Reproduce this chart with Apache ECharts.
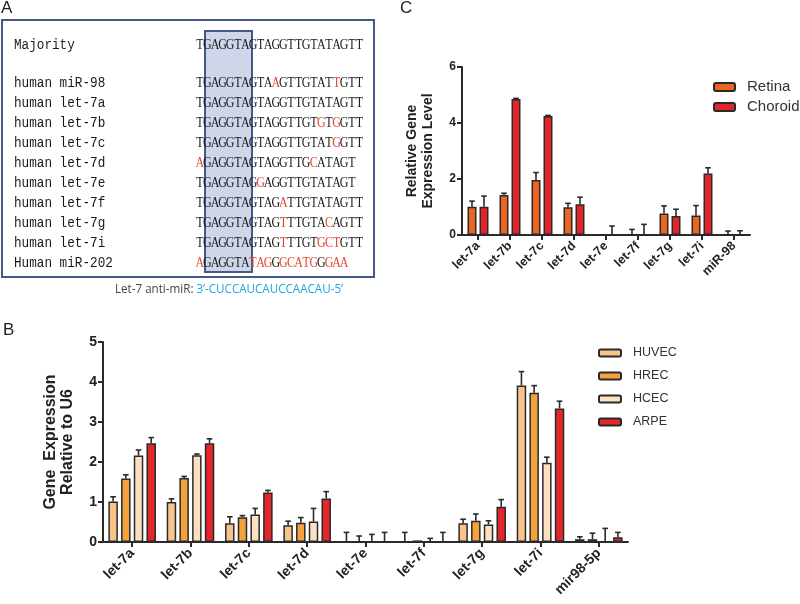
<!DOCTYPE html>
<html><head><meta charset="utf-8">
<script src="https://cdn.jsdelivr.net/npm/echarts@6/dist/echarts.min.js"></script>
<style>html,body{margin:0;padding:0;background:#fff}#c{width:800px;height:604px}</style>
</head><body><div id="c"></div>
<script>
// ---------- Panel A data ----------
const seqNames = ['Majority','human miR-98','human let-7a','human let-7b','human let-7c','human let-7d','human let-7e','human let-7f','human let-7g','human let-7i','Human miR-202'];
const seqs = ['TGAGGTAGTAGGTTGTATAGTT','TGAGGTAGTAAGTTGTATTGTT','TGAGGTAGTAGGTTGTATAGTT','TGAGGTAGTAGGTTGTGTGGTT','TGAGGTAGTAGGTTGTATGGTT','AGAGGTAGTAGGTTGCATAGT','TGAGGTAGGAGGTTGTATAGT','TGAGGTAGTAGATTGTATAGTT','TGAGGTAGTAGTTTGTACAGTT','TGAGGTAGTAGTTTGTGCTGTT','AGAGGTATAGGGCATGGGAA'];
const seqRed = [[],[10,18],[],[16,18],[18],[0,15],[8],[11],[11,17],[11,16,17,18],[0,7,8,9,11,12,13,14,15,17,18,19]];
const antiLabel = 'Let-7 anti-miR: ';
const antiSeq = '3\u2019-CUCCAUCAUCCAACAU-5\u2019';

// ---------- Panel B data ----------
const catsB = ['let-7a','let-7b','let-7c','let-7d','let-7e','let-7f','let-7g','let-7i','mir98-5p'];
const seriesB = ['HUVEC','HREC','HCEC','ARPE'];
const huvec    = [1.01,1.00,0.47,0.42,0.00,0.00,0.47,3.91,0.07];
const huvecErr = [0.12,0.08,0.16,0.10,0.24,0.24,0.10,0.35,0.06];
const hrec     = [1.59,1.60,0.62,0.48,0.00,0.04,0.53,3.73,0.07];
const hrecErr  = [0.09,0.04,0.04,0.13,0.15,0.00,0.17,0.18,0.15];
const hcec     = [2.16,2.17,0.69,0.51,0.00,0.01,0.44,1.98,0.01];
const hcecErr  = [0.14,0.03,0.15,0.33,0.19,0.08,0.09,0.14,0.33];
const arpe     = [2.47,2.47,1.24,1.09,0.01,0.00,0.88,3.34,0.12];
const arpeErr  = [0.14,0.11,0.05,0.17,0.23,0.24,0.18,0.18,0.12];
const colorsB = ['#f9c48c','#f4a23e','#fde0c4','#e3262a'];
const yTicksB = [0,5,1];

// ---------- Panel C data ----------
const catsC = ['let-7a','let-7b','let-7c','let-7d','let-7e','let-7f','let-7g','let-7i','miR-98'];
const seriesC = ['Retina','Choroid'];
const retina     = [1.01,1.43,1.96,0.99,0,0,0.77,0.70,0];
const retinaErr  = [0.20,0.06,0.27,0.14,0,0.20,0.27,0.35,0.14];
const choroid    = [1.01,4.86,4.25,1.10,0,0,0.68,2.20,0];
const choroidErr = [0.38,0.02,0.02,0.25,0.32,0.38,0.24,0.20,0.15];
const colorsC = ['#ec6421','#e5232b'];
const yTicksC = [0,6,2];

// ---------- build ----------
const chart = echarts.init(document.getElementById('c'), null, {renderer:'canvas'});
const SANS = '"Liberation Sans", Arial, sans-serif';
const INK = '#2a2a2a';

function errSeries(vals, errs, idx, n, barW, gap, ax) {
  return {
    type:'custom', xAxisIndex:ax, yAxisIndex:ax, silent:true, z:1,
    data: vals.map((v,i)=>[i, v, v+errs[i], errs[i]]),
    renderItem(params, api){
      const e = api.value(3); if (!(e>0)) return null;
      const off = (idx-(n-1)/2)*(barW+gap);
      const p0 = api.coord([api.value(0), api.value(1)]);
      const p1 = api.coord([api.value(0), api.value(2)]);
      const x = p0[0]+off;
      return {type:'group', children:[
        {type:'line', shape:{x1:x,y1:p0[1],x2:x,y2:p1[1]}, style:{stroke:INK,lineWidth:1.6}},
        {type:'line', shape:{x1:x-2.8,y1:p1[1],x2:x+2.8,y2:p1[1]}, style:{stroke:INK,lineWidth:1.6}}
      ]};
    }
  };
}
function barSeries(name, vals, color, barW, gap, ax) {
  return {type:'bar', name, xAxisIndex:ax, yAxisIndex:ax, data:vals, barWidth:barW,
    barGap: (gap/barW*100)+'%', z:2,
    itemStyle:{color, borderColor:INK, borderWidth:1.5}};
}

const BW_B = 9.5, GAP_B = 3.2, BW_C = 9, GAP_C = 3;
const valsB = [huvec,hrec,hcec,arpe], errsB = [huvecErr,hrecErr,hcecErr,arpeErr];
const valsC = [retina,choroid], errsC = [retinaErr,choroidErr];
const series = [];
seriesB.forEach((s,k)=>series.push(barSeries(s, valsB[k], colorsB[k], BW_B, GAP_B, 0)));
seriesB.forEach((s,k)=>series.push(errSeries(valsB[k], errsB[k], k, 4, BW_B, GAP_B, 0)));
seriesC.forEach((s,k)=>series.push(barSeries(s, valsC[k], colorsC[k], BW_C, GAP_C, 1)));
seriesC.forEach((s,k)=>series.push(errSeries(valsC[k], errsC[k], k, 2, BW_C, GAP_C, 1)));

// measure helper for fitting text widths
const mctx = document.createElement('canvas').getContext('2d');
function measure(font, txt){ mctx.font = font; return mctx.measureText(txt).width; }

// Panel A graphics
const g = [];
const rowY = i => i===0 ? 45 : 83 + (i-1)*20;
g.push({type:'rect', shape:{x:2,y:20,width:372,height:257}, style:{fill:'#fff',stroke:'#44598a',lineWidth:2}, z:0});
g.push({type:'rect', shape:{x:205,y:31,width:47,height:241}, style:{fill:'#cfd6ea',stroke:'#44598a',lineWidth:2}, z:1});
const SEQ_X = 196, PITCH = 7.6;
seqNames.forEach((nm,i)=>{
  g.push({type:'text', x:14, y:rowY(i), scaleX:0.905, z:3,
    style:{text:nm, font:'14px "Liberation Mono", monospace', fill:'#1a1a1a', verticalAlign:'middle', align:'left'}});
  const s = seqs[i];
  for (let j=0;j<s.length;j++){
    g.push({type:'text', x:SEQ_X+PITCH*j+PITCH/2, y:rowY(i), scaleX:0.8, z:3,
      style:{text:s[j], font:'15px "Liberation Serif", serif', fill: seqRed[i].includes(j)?'#e2472f':'#1a1a1a', align:'center', verticalAlign:'middle'}});
  }
});
const antiFont = '13px "Open Sans", sans-serif';
const antiW = measure(antiFont, antiLabel + antiSeq);
g.push({type:'text', x:115, y:289, z:3, scaleX: 228/antiW, style:{
  text:'{a|'+antiLabel+'}{b|'+antiSeq+'}', verticalAlign:'middle', align:'left',
  rich:{a:{fontFamily:'"Open Sans", sans-serif', fontSize:13, fill:'#444'}, b:{fontFamily:'"Open Sans", sans-serif', fontSize:13, fill:'#1ea5dc'}}}});
// panel letters
g.push({type:'text', x:1, y:0, style:{text:'A', font:'17px '+SANS, fill:'#222'}});
g.push({type:'text', x:400, y:0, style:{text:'C', font:'17px '+SANS, fill:'#222'}});
g.push({type:'text', x:3, y:322, style:{text:'B', font:'17px '+SANS, fill:'#222'}});

const axisLine = {show:true, lineStyle:{color:INK, width:2}};
const axisTick = {show:true, length:5, lineStyle:{color:INK, width:2}};

chart.setOption({
  animation:false,
  textStyle:{fontFamily:SANS},
  grid:[
    {left:103, top:342, width:525, height:200},
    {left:462, top:67, width:288, height:168}
  ],
  legend:[
    {data:seriesB, orient:'vertical', left:598, top:346, padding:0, itemWidth:22, itemHeight:7, itemGap:9, icon:'roundRect',
     textStyle:{fontSize:12.5, color:'#333', lineHeight:14, padding:[0,0,0,7]}},
    {data:seriesC, orient:'vertical', left:713, top:79, padding:0, itemWidth:21, itemHeight:8, itemGap:4, icon:'roundRect',
     textStyle:{fontSize:15, color:'#333', lineHeight:16, padding:[0,0,0,7]}}
  ],
  xAxis:[
    {type:'category', gridIndex:0, data:catsB, axisLine, axisTick:{...axisTick, alignWithLabel:true},
     axisLabel:{rotate:45, fontSize:14, fontWeight:'bold', color:'#222', margin:9}},
    {type:'category', gridIndex:1, data:catsC, axisLine, axisTick:{...axisTick, alignWithLabel:true},
     axisLabel:{rotate:45, fontSize:12.5, fontWeight:'bold', color:'#222', margin:9}}
  ],
  yAxis:[
    {type:'value', gridIndex:0, min:yTicksB[0], max:yTicksB[1], interval:yTicksB[2], splitLine:{show:false}, axisLine, axisTick,
     axisLabel:{fontSize:14, fontWeight:'bold', color:'#222', margin:6},
     name:'Gene  Expression\nRelative to U6', nameLocation:'middle', nameGap:27,
     nameTextStyle:{fontSize:16, fontWeight:'bold', color:'#222', lineHeight:17}},
    {type:'value', gridIndex:1, min:yTicksC[0], max:yTicksC[1], interval:yTicksC[2], splitLine:{show:false}, axisLine, axisTick,
     axisLabel:{fontSize:12, fontWeight:'bold', color:'#222', margin:6},
     name:'Relative Gene\nExpression Level', nameLocation:'middle', nameGap:26,
     nameTextStyle:{fontSize:14, fontWeight:'bold', color:'#222', lineHeight:16}}
  ],
  graphic:{elements:g},
  series
});
</script></body></html>
